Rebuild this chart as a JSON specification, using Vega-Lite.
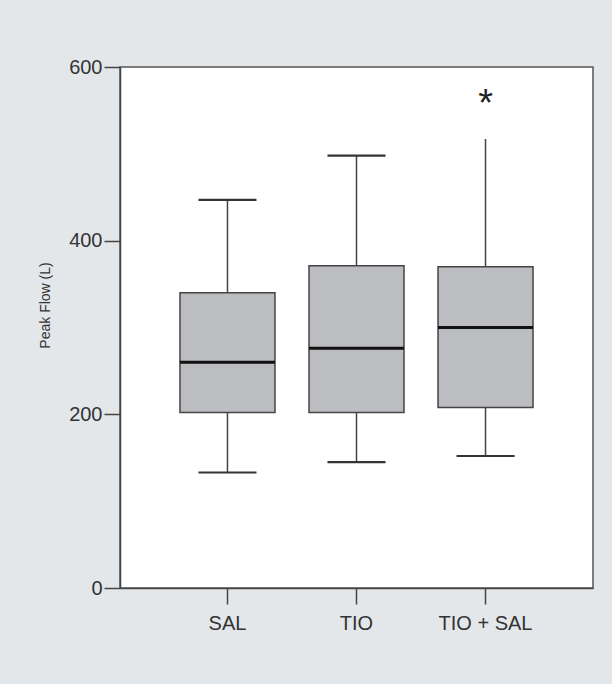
{
  "$schema": "https://vega.github.io/schema/vega-lite/v6.json",
  "autosize": "none",
  "width": 473,
  "height": 521,
  "padding": {"left": 120, "top": 67, "right": 19, "bottom": 96},
  "background": "#e4e7ea",
  "config": {
    "view": {"stroke": "#555555", "strokeWidth": 1.5, "fill": "white"},
    "font": "Liberation Sans"
  },
  "data": {
    "values": [
      {"group": "SAL", "lo": 133, "q1": 202, "median": 260, "q3": 340, "hi": 447, "capLo": 133, "capHi": 447, "outlier": null},
      {"group": "TIO", "lo": 145, "q1": 202, "median": 276, "q3": 371, "hi": 498, "capLo": 145, "capHi": 498, "outlier": null},
      {"group": "TIO + SAL", "lo": 152, "q1": 208, "median": 300, "q3": 370, "hi": 517, "capLo": 152, "capHi": null, "outlier": 569}
    ]
  },
  "encoding": {
    "x": {
      "field": "group", "type": "nominal", "sort": null,
      "scale": {"type": "band", "paddingInner": 0, "paddingOuter": 0.333},
      "axis": {
        "title": null, "labelAngle": 0, "tickSize": 16, "tickColor": "#444444", "tickWidth": 1.5,
        "domainColor": "#444444", "domainWidth": 1.5, "labelFontSize": 20, "labelColor": "#333333",
        "labelPadding": 9, "labelFont": "Liberation Sans"
      }
    }
  },
  "layer": [
    {
      "mark": {"type": "rule", "color": "#444444", "strokeWidth": 1.5},
      "encoding": {
        "y": {
          "field": "lo", "type": "quantitative",
          "scale": {"domain": [0, 600], "nice": false},
          "axis": {
            "values": [0, 200, 400, 600], "grid": false, "tickSize": 16, "tickColor": "#444444", "tickWidth": 1.5,
            "domainColor": "#444444", "domainWidth": 1.5, "labelFontSize": 20, "labelColor": "#333333",
            "labelPadding": 2, "labelFont": "Liberation Sans",
            "title": "Peak Flow (L)", "titleFontSize": 14, "titleFontWeight": "normal", "titleColor": "#333333",
            "titleFont": "Liberation Sans", "titleX": -75, "titleY": 238, "titleAngle": -90,
            "titleAlign": "center", "titleBaseline": "middle"
          }
        },
        "y2": {"field": "hi"}
      }
    },
    {
      "mark": {"type": "bar", "size": 95, "fill": "#bcbdc0", "stroke": "#444444", "strokeWidth": 1.5},
      "encoding": {
        "y": {"field": "q1", "type": "quantitative"},
        "y2": {"field": "q3"}
      }
    },
    {
      "mark": {"type": "tick", "size": 95, "thickness": 3, "color": "#111111", "opacity": 1},
      "encoding": {"y": {"field": "median", "type": "quantitative"}}
    },
    {
      "mark": {"type": "tick", "size": 58, "thickness": 2.2, "color": "#333333", "opacity": 1},
      "encoding": {"y": {"field": "capLo", "type": "quantitative"}}
    },
    {
      "mark": {"type": "tick", "size": 58, "thickness": 2.2, "color": "#333333", "opacity": 1},
      "encoding": {"y": {"field": "capHi", "type": "quantitative"}}
    },
    {
      "mark": {"type": "text", "text": "*", "fontSize": 38, "font": "Liberation Sans", "color": "#222222", "baseline": "alphabetic", "dy": 22},
      "encoding": {"y": {"field": "outlier", "type": "quantitative"}}
    }
  ]
}
